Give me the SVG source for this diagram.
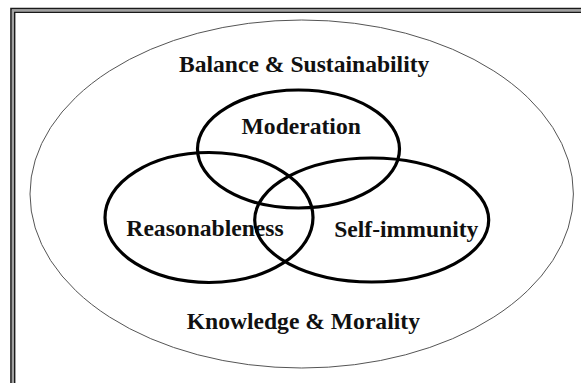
<svg xmlns="http://www.w3.org/2000/svg" width="581" height="383" viewBox="0 0 581 383">
  <style>
    .frame { fill: none; stroke: #1a1a1a; stroke-width: 1.6; }
    .frame-mid { fill: none; stroke: #a0a0a0; stroke-width: 1.6; }
    .outer { fill: none; stroke: #555; stroke-width: 1; }
    .set { fill: none; stroke: #000; stroke-width: 3.2; }
    .lbl { font-family: "Liberation Serif", "Times New Roman", serif; font-weight: bold; font-size: 23.6px; fill: #111; text-anchor: middle; }
  </style>
  <rect width="581" height="383" fill="#fff"/>
  <g id="frame">
    <path class="frame" d="M11,383 V8.6 H581"/>
    <path class="frame-mid" d="M12.8,383 V10.4 H581"/>
    <path class="frame" d="M14.6,383 V12.2 H581"/>
  </g>
  <g id="balance-sustainability">
    <ellipse class="outer" cx="301.7" cy="194" rx="271.7" ry="174"/>
    <text class="lbl" x="304.2" y="71.7">Balance &amp; Sustainability</text>
  </g>
  <g id="moderation">
    <ellipse class="set" cx="298.5" cy="149" rx="101" ry="59"/>
    <text class="lbl" x="301.2" y="134">Moderation</text>
  </g>
  <g id="reasonableness">
    <ellipse class="set" cx="209" cy="217.5" rx="104" ry="65"/>
    <text class="lbl" x="205" y="235.5">Reasonableness</text>
  </g>
  <g id="self-immunity">
    <ellipse class="set" cx="371.7" cy="220" rx="117" ry="62"/>
    <text class="lbl" x="406.3" y="236.5">Self-immunity</text>
  </g>
  <g id="knowledge-morality">
    <text class="lbl" x="303.3" y="328.7">Knowledge &amp; Morality</text>
  </g>
  <g id="connectors"></g>
</svg>
